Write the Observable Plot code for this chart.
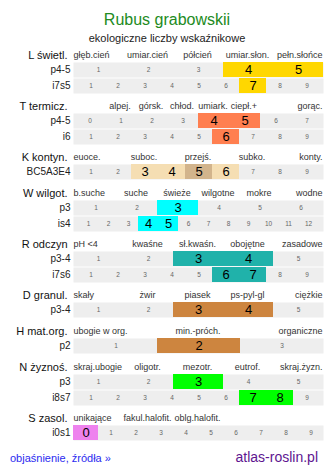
<!DOCTYPE html>
<html>
<head>
<meta charset="utf-8">
<script src="https://cdn.jsdelivr.net/npm/d3@7"></script>
<script src="https://cdn.jsdelivr.net/npm/@observablehq/plot@0.6"></script>
<style>
  html, body { margin: 0; padding: 0; background: #fff; }
  body { width: 334px; height: 469px; overflow: hidden; font-family: "Liberation Sans", Arial, sans-serif; }
  #title { margin-top: 12px; height: 16px; line-height: 16px; font-size: 16px; color: #228b22; text-align: center; }
  #subtitle { margin-top: 4px; height: 12px; line-height: 12px; font-size: 11px; color: #222; text-align: center; }
  #chart { margin-top: 3px; }
  #chart svg { display: block; }
  #footer { margin-top: 4px; height: 16px; line-height: 14px; display: flex; justify-content: space-between; align-items: baseline; padding: 0 16px 0 10px; }
  #footer .l { font-size: 11px; color: #2b2bf0; }
  #footer .r { font-size: 14px; color: #5e1590; }
</style>
</head>
<body>
<div id="title">Rubus grabowskii</div>
<div id="subtitle">ekologiczne liczby wskaźnikowe</div>
<div id="chart"></div>
<div id="footer"><span class="l">objaśnienie, źródła »</span><span class="r">atlas-roslin.pl</span></div>
<script>
// ---- data ----
const sectionNames = ["L świetl.", "T termicz.", "K kontyn.", "W wilgot.", "R odczyn", "D granul.", "H mat.org.", "N żyznoś.", "S zasol."];
const sectionColors = ["#ffd700", "#ff7f50", "#f5deb3", "#00ffff", "#20b2aa", "#cd853f", "#cd853f", "#00ff00", "#ee82ee"];
const strongColor = "#d2b48c";
const headerLabels = [
  ["głęb.cień", "umiar.cień", "półcień", "umiar.słon.", "pełn.słońce"],
  ["", "alpej.", "górsk.", "chłod.", "umiark.", "ciepł.+", "", "gorąc."],
  ["euoce.", "", "suboc.", "", "przejś.", "", "subko.", "", "konty."],
  ["b.suche", "suche", "świeże", "wilgotne", "mokre", "wodne"],
  ["pH <4", "kwaśne", "sł.kwaśn.", "obojętne", "zasadowe"],
  ["skały", "żwir", "piasek", "ps-pyl-gl", "ciężkie"],
  ["ubogie w org.", "min.-próch.", "organiczne"],
  ["skraj.ubogie", "oligotr.", "mezotr.", "eutrof.", "skraj.żyzn."],
  ["unikające", "fakul.halofit.", "oblg.halofit.", "", ""]
];
const rowLabels = [["p4-5", "i7s5"], ["p4-5", "i6"], ["BC5A3E4"], ["p3", "is4"], ["p3-4", "i7s6"], ["p3-4"], ["p2"], ["p3", "i8s7"], ["i0s1"]];
const rowFrom = [[1, 1], [0, 1], [1], [1, 1], [1, 1], [1], [1], [1, 1], [0]];
const rowTo = [[5, 9], [7, 9], [9], [6, 12], [5, 9], [5], [3], [5, 9], [9]];
const rowValues = [[[4, 5], [7]], [[4, 5], [6]], [[3, 4, 5, 6]], [[3], [4, 5]], [[3, 4], [6, 7]], [[3, 4]], [[2]], [[3], [7, 8]], [[0]]];
const rowStrong = [[[], []], [[], []], [[5]], [[], []], [[], []], [[]], [[]], [[], []], [[]]];

// ---- drawing ----
const W = 334, ML = 73, MR = 11;
const font = "Liberation Sans, Arial, sans-serif";
const root = document.getElementById("chart");

sectionNames.forEach((name, s) => {
  const labels = headerLabels[s];
  const n = labels.length;
  const items = labels.map((t, i) => ({i, t})).filter(d => d.t);
  const first = items.filter(d => d.i === 0);
  const last = items.filter(d => d.i === n - 1);
  const mid = items.filter(d => d.i > 0 && d.i < n - 1);
  const header = Plot.plot({
    width: W, height: 15, marginLeft: ML, marginRight: MR, marginTop: 0, marginBottom: 0,
    style: {fontFamily: font, background: "transparent", overflow: "visible"},
    x: {type: "band", domain: d3.range(n), padding: 0, axis: null},
    marks: [
      Plot.text(first, {frameAnchor: "left", textAnchor: "start", text: "t", fontSize: 9, fill: "#333"}),
      Plot.text(mid, {x: "i", text: "t", fontSize: 9, fill: "#333", dx: -1}),
      Plot.text(last, {frameAnchor: "right", textAnchor: "end", text: "t", fontSize: 9, fill: "#333", dx: -1}),
      Plot.text([name], {frameAnchor: "left", textAnchor: "end", dx: -6, fontSize: 11, fill: "#111"})
    ]
  });
  root.appendChild(header);

  const nRows = rowLabels[s].length;
  rowLabels[s].forEach((lab, r) => {
    const cells = d3.range(rowFrom[s][r], rowTo[s][r] + 1);
    const hi = rowValues[s][r];
    const strong = rowStrong[s][r];
    const lo = cells.filter(v => !hi.includes(v));
    const row = Plot.plot({
      width: W, height: 16, marginLeft: ML, marginRight: MR, marginTop: 0, marginBottom: 1,
      style: {fontFamily: font, background: "transparent", overflow: "visible"},
      x: {type: "band", domain: cells, padding: 0, axis: null},
      marks: [
        Plot.frame({fill: "#eeeeee", stroke: "none"}),
        Plot.cell(hi, {x: d => d, fill: d => strong.includes(d) ? strongColor : sectionColors[s], shapeRendering: "crispEdges", inset: -0.3}),
        Plot.text(lo, {x: d => d, text: d => String(d), fontSize: 6.5, fill: "#666"}),
        Plot.text(hi, {x: d => d, text: d => String(d), fontSize: 13, fill: "#000"}),
        Plot.text([lab], {frameAnchor: "left", textAnchor: "end", dx: -3, fontSize: 10, fill: "#222"})
      ]
    });
    root.appendChild(row);
  });
  const gap = document.createElement("div");
  gap.style.height = (nRows > 1 ? 4 : 5) + "px";
  root.appendChild(gap);
});
</script>
</body>
</html>
